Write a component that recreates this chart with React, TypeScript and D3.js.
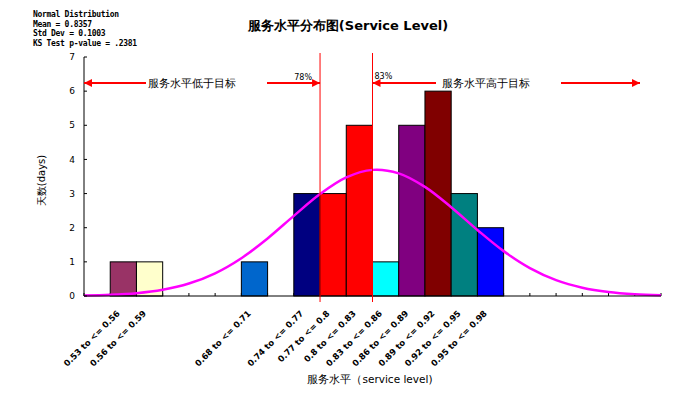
import React from "react";
import * as d3 from "d3";

// bins of width 0.03 starting at 0.50 (22 bins, only some have days)
const binLabels = [
  "", "0.53 to <= 0.56", "0.56 to <= 0.59", "", "", "", "0.68 to <= 0.71", "",
  "0.74 to <= 0.77", "0.77 to <= 0.8", "0.8 to <= 0.83", "0.83 to <= 0.86",
  "0.86 to <= 0.89", "0.89 to <= 0.92", "0.92 to <= 0.95", "0.95 to <= 0.98",
  "", "", "", "", "", "",
];
const days = [0, 1, 1, 0, 0, 0, 1, 0, 3, 3, 5, 1, 5, 6, 3, 2, 0, 0, 0, 0, 0, 0];
const barColors = [
  "#fff", "#993366", "#FFFFCC", "#fff", "#fff", "#fff", "#0066CC", "#fff",
  "#000080", "#FF0000", "#FF0000", "#00FFFF", "#800080", "#800000", "#008080", "#0000FF",
  "#fff", "#fff", "#fff", "#fff", "#fff", "#fff",
];
// fitted normal curve, read at each bin edge
const curveVals = [
  0.014, 0.036, 0.084, 0.184, 0.366, 0.666, 1.108, 1.686, 2.347, 2.985, 3.473, 3.694,
  3.593, 3.196, 2.6, 1.934, 1.314, 0.817, 0.464, 0.242, 0.115, 0.05, 0.02,
];
const yTicks = [0, 1, 2, 3, 4, 5, 6, 7];
const statsLines = ["Normal Distribution", "Mean = 0.8357", "Std Dev = 0.1003", "KS Test p-value = .2381"];

const W = 686, H = 397;
const left = 84, right = 661, top = 57, bottom = 296;

const App = () => {
  const x = d3.scaleLinear().domain([0, days.length]).range([left, right]);
  const y = d3.scaleLinear().domain([0, 7]).range([bottom, top]);
  const line = d3
    .line<number>()
    .x((d, i) => x(i))
    .y(d => y(d))
    .curve(d3.curveCatmullRom);
  const bw = x(1) - x(0);
  const low = x(9), high = x(11);
  const arrowY = 83;
  const red = "#FF0000";

  return (
    <svg width={W} height={H} style={{ position: "absolute", left: 0, top: 0, background: "#fff" }}
      fontFamily="'DejaVu Sans', sans-serif">
      <defs>
        <marker id="ah" viewBox="0 0 10 10" refX="10" refY="5" markerWidth="4" markerHeight="4" orient="auto-start-reverse">
          <path d="M0,0 L10,5 L0,10 z" fill={red} />
        </marker>
      </defs>
      {statsLines.map((s, i) => (
        <text key={i} x={33} y={17 + i * 9.5} fontSize={8} letterSpacing={-0.3} fontWeight="bold"
          fontFamily="'DejaVu Sans Mono', monospace">{s}</text>
      ))}
      <text x={348} y={30} textAnchor="middle" fontSize={13} fontWeight="bold">服务水平分布图(Service Level)</text>

      {/* x ticks, inside */}
      {d3.range(days.length + 1).map(i => (
        <line key={i} x1={x(i)} x2={x(i)} y1={bottom} y2={bottom - 3} stroke="#000" />
      ))}
      {/* bars */}
      {days.map((d, i) => d > 0 && (
        <rect key={i} x={x(i)} y={y(d)} width={bw} height={y(0) - y(d)} fill={barColors[i]} stroke="#000" strokeWidth={1} />
      ))}
      <path d={line(curveVals) || ""} fill="none" stroke="#FF00FF" strokeWidth={2.5} />

      {/* axes */}
      <line x1={left} x2={left} y1={top} y2={bottom} stroke="#000" />
      <line x1={left} x2={right} y1={bottom} y2={bottom} stroke="#000" />
      {yTicks.map(t => (
        <g key={t}>
          <line x1={left} x2={left + 3} y1={y(t)} y2={y(t)} stroke="#000" />
          <text x={75} y={y(t)} dy="0.35em" textAnchor="end" fontSize={9}>{t}</text>
        </g>
      ))}
      {binLabels.map((s, i) => s && (
        <text key={i} transform={`translate(${x(i) + bw / 2 - 3},${bottom + 18}) rotate(-45)`}
          textAnchor="end" fontSize={8.5} fontWeight="bold">{s}</text>
      ))}
      <text x={370} y={383} textAnchor="middle" fontSize={10.5}>服务水平（service level)</text>
      <text transform={`translate(45,${(top + bottom) / 2 + 4}) rotate(-90)`} textAnchor="middle" fontSize={10}>天数(days)</text>

      {/* service level target lines */}
      <line x1={low} x2={low} y1={53} y2={bottom + 6} stroke={red} />
      <line x1={high} x2={high} y1={53} y2={bottom + 6} stroke={red} />
      <line x1={146} x2={84} y1={arrowY} y2={arrowY} stroke={red} strokeWidth={2} markerEnd="url(#ah)" />
      <text x={148} y={arrowY} dy="0.35em" fontSize={10.5}>服务水平低于目标</text>
      <line x1={267} x2={low} y1={arrowY} y2={arrowY} stroke={red} strokeWidth={2} markerEnd="url(#ah)" />
      <text x={low - 8} y={arrowY - 3} textAnchor="end" fontSize={8}>78%</text>
      <text x={high + 2} y={arrowY - 4} fontSize={8}>83%</text>
      <line x1={436} x2={high} y1={arrowY} y2={arrowY} stroke={red} strokeWidth={2} markerEnd="url(#ah)" />
      <text x={442} y={arrowY} dy="0.35em" fontSize={10.5}>服务水平高于目标</text>
      <line x1={561} x2={640} y1={arrowY} y2={arrowY} stroke={red} strokeWidth={2} markerEnd="url(#ah)" />
    </svg>
  );
};

export default App;
